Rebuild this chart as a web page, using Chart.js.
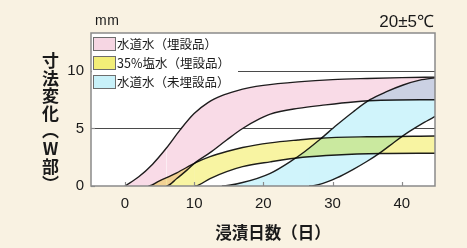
<!DOCTYPE html>
<html>
<head>
<meta charset="utf-8">
<script src="https://cdn.jsdelivr.net/npm/chart.js@4"></script>
<style>
  html, body { margin: 0; padding: 0; background: #f9f2e2; }
  #wrap { position: relative; width: 467px; height: 248px; overflow: hidden; }
  #c { position: absolute; left: 0; top: 0; }
  .t { position: absolute; color: #1a1a1a; white-space: nowrap; }
  .jp { font-family: "Noto Sans CJK JP", "Noto Sans CJK SC", sans-serif; }
  .lat { font-family: "Liberation Sans", Arial, sans-serif; }
  #legend { position: absolute; left: 92px; top: 34px; width: 146px; height: 53px; background: #fff; }
  .lbox { position: absolute; left: 1px; width: 21px; height: 12px; border: 1px solid #6d6d6d; }
  .ltxt { position: absolute; left: 25px; font-size: 12.5px; line-height: 13px; color: #1a1a1a; }
  #ytitle { left: 41px; top: 52px; writing-mode: vertical-rl; text-orientation: upright;
            font-size: 17px; line-height: 18px; letter-spacing: 0.6px; font-weight: 700; }
  #xtitle { left: 0; width: 546px; text-align: center; top: 224px; font-size: 16.5px; line-height: 17px; font-weight: 700; }
  #unit { left: 95px; top: 14px; font-size: 14px; line-height: 13px; letter-spacing: 0.5px; }
  #temp { right: 33px; top: 14px; font-size: 17px; line-height: 16px; }
</style>
</head>
<body>
<div id="wrap">
  <canvas id="c" width="467" height="248"></canvas>
  <div id="legend"></div>
  <div id="ytitle" class="t jp">寸法変化（W部）</div>
  <div id="xtitle" class="t jp">浸漬日数（日）</div>
  <div id="unit" class="t lat">mm</div>
  <div id="temp" class="t lat">20±5℃</div>
</div>
<script>
// ---------- data ----------
const X_MIN = -4.9, X_MAX = 44.8, Y_MIN = 0, Y_MAX = 13.3;
const X_TICKS = [0, 10, 20, 30, 40];
const Y_TICKS = [0, 5, 10];
const REF_LINES_MM = [5, 10];

const LEGEND_LABELS = ['水道水（埋設品）', '35%塩水（埋設品）', '水道水（未埋設品）'];

// 水道水（埋設品） band
const TAP_BURIED_UPPER_DAY = [0, 2, 4, 6, 8, 10, 12, 14, 16, 18, 20, 25, 30, 35, 40, 45];
const TAP_BURIED_UPPER_MM  = [0, 0.8, 1.9, 3.3, 4.9, 6.3, 7.25, 7.85, 8.25, 8.55, 8.75, 9.05, 9.25, 9.35, 9.42, 9.47];
const TAP_BURIED_LOWER_DAY = [0, 6, 7.5, 9, 10.3, 12.3, 14.7, 17, 19.5, 21, 25, 29, 33, 37, 45];
const TAP_BURIED_LOWER_MM  = [0, 0, 0.65, 1.4, 2.1, 2.9, 4.0, 5.0, 5.85, 6.25, 6.75, 7.05, 7.3, 7.45, 7.5];

// 35%塩水（埋設品） band
const SALT_BURIED_UPPER_DAY = [0, 3.4, 5, 7.5, 10.3, 12.3, 14.7, 17, 21, 25, 28, 35, 45];
const SALT_BURIED_UPPER_MM  = [0, 0, 0.45, 1.15, 2.05, 2.55, 3.0, 3.35, 3.75, 4.0, 4.15, 4.28, 4.35];
const SALT_BURIED_LOWER_DAY = [0, 10.1, 12.3, 14.7, 17, 21, 25.7, 30.6, 37, 45];
const SALT_BURIED_LOWER_MM  = [0, 0, 0.65, 1.25, 1.68, 2.1, 2.5, 2.7, 2.82, 2.85];

// 水道水（未埋設品） band
const TAP_UNBURIED_UPPER_DAY = [0, 14, 17, 21, 24.1, 26, 28.2, 30.6, 33, 35.4, 37.8, 40.2, 42.6, 45];
const TAP_UNBURIED_UPPER_MM  = [0, 0, 0.3, 1.1, 2.2, 3.0, 4.06, 5.3, 6.46, 7.5, 8.2, 8.78, 9.2, 9.42];
const TAP_UNBURIED_LOWER_DAY = [0, 26.6, 28.5, 30.6, 33, 35, 37, 39, 41, 43, 45];
const TAP_UNBURIED_LOWER_MM  = [0, 0, 0.2, 0.7, 1.45, 2.15, 2.95, 3.85, 4.7, 5.45, 6.1];

// ---------- styles ----------
const BAND_FILLS = ['#f9dbe7', '#f8f4a2', '#d0f4fb'];
const LEGEND_FILLS = ['#f6d6e3', '#f2ee78', '#c8f1f9'];
const LINE_COLOR = '#1e1e1e';
const FONT_LAT = '"Liberation Sans", Arial, sans-serif';

// legend (HTML, real text)
const lg = document.getElementById('legend');
LEGEND_LABELS.forEach((txt, i) => {
  const top = 3 + i * 19;
  const b = document.createElement('div');
  b.className = 'lbox'; b.style.top = top + 'px'; b.style.background = LEGEND_FILLS[i];
  lg.appendChild(b);
  const t = document.createElement('div');
  t.className = 'ltxt jp'; t.style.top = top + 'px'; t.textContent = txt;
  lg.appendChild(t);
});

function pts(days, mm) { return days.map((x, i) => ({ x, y: mm[i] })); }
const hideZero = ctx => (ctx.p0.parsed.y === 0 && ctx.p1.parsed.y === 0) ? 'rgba(0,0,0,0)' : undefined;

function line(data, fill, color) {
  return {
    data, parsing: false, showLine: true,
    borderColor: LINE_COLOR, borderWidth: 1.4, pointRadius: 0, pointHoverRadius: 0,
    cubicInterpolationMode: 'monotone',
    fill: fill, backgroundColor: color || 'rgba(0,0,0,0)',
    segment: { borderColor: hideZero }
  };
}

const datasets = [
  line(pts(TAP_BURIED_LOWER_DAY, TAP_BURIED_LOWER_MM), false),
  line(pts(TAP_BURIED_UPPER_DAY, TAP_BURIED_UPPER_MM), 0, BAND_FILLS[0]),
  line(pts(SALT_BURIED_LOWER_DAY, SALT_BURIED_LOWER_MM), false),
  line(pts(SALT_BURIED_UPPER_DAY, SALT_BURIED_UPPER_MM), 2, BAND_FILLS[1]),
  line(pts(TAP_UNBURIED_LOWER_DAY, TAP_UNBURIED_LOWER_MM), false),
  line(pts(TAP_UNBURIED_UPPER_DAY, TAP_UNBURIED_UPPER_MM), 4, BAND_FILLS[2]),
];

const bandPlugin = {
  id: 'bandBlend',
  beforeDatasetsDraw(chart) {
    chart.ctx.save();
    chart.ctx.globalCompositeOperation = 'multiply';
  },
  afterDatasetsDraw(chart) {
    const ctx = chart.ctx;
    ctx.restore();
    const { left, right, top, bottom } = chart.chartArea;
    const ys = chart.scales.y;
    ctx.save();
    ctx.globalCompositeOperation = 'destination-over';
    ctx.strokeStyle = '#4a4a4a';
    ctx.lineWidth = 1.1;
    REF_LINES_MM.forEach(v => {
      const py = Math.round(ys.getPixelForValue(v)) + 0.5;
      ctx.beginPath(); ctx.moveTo(left, py); ctx.lineTo(right, py); ctx.stroke();
    });
    ctx.fillStyle = '#ffffff';
    ctx.fillRect(left, top, right - left, bottom - top);
    ctx.restore();
  },
  afterDraw(chart) {
    const ctx = chart.ctx;
    const { left, right, top, bottom } = chart.chartArea;
    const xs = chart.scales.x, ys = chart.scales.y;
    ctx.save();
    ctx.strokeStyle = '#8a8a8a';
    ctx.lineWidth = 1.5;
    ctx.strokeRect(left, top, right - left, bottom - top);
    ctx.lineWidth = 1.2;
    X_TICKS.forEach(v => {
      const px = Math.round(xs.getPixelForValue(v)) + 0.5;
      ctx.beginPath(); ctx.moveTo(px, bottom); ctx.lineTo(px, bottom - 4); ctx.stroke();
    });
    Y_TICKS.forEach(v => {
      const py = Math.round(ys.getPixelForValue(v)) + 0.5;
      ctx.beginPath(); ctx.moveTo(left, py); ctx.lineTo(left + 4, py); ctx.stroke();
    });
    ctx.restore();
  }
};

new Chart(document.getElementById('c'), {
  type: 'line',
  data: { datasets },
  plugins: [bandPlugin],
  options: {
    responsive: false,
    animation: false,
    devicePixelRatio: 1,
    events: [],
    layout: { padding: { left: 0, right: 32, top: 33, bottom: 0 } },
    plugins: { legend: { display: false }, tooltip: { enabled: false }, title: { display: false } },
    scales: {
      x: {
        type: 'linear', min: X_MIN, max: X_MAX,
        grid: { display: false, drawTicks: false }, border: { display: false },
        afterBuildTicks: s => { s.ticks = X_TICKS.map(v => ({ value: v })); },
        afterFit: s => { s.height = 62; },
        ticks: { color: '#1a1a1a', font: { family: FONT_LAT, size: 15 }, padding: 9, maxRotation: 0, autoSkip: false }
      },
      y: {
        type: 'linear', min: Y_MIN, max: Y_MAX,
        grid: { display: false, drawTicks: false }, border: { display: false },
        afterBuildTicks: s => { s.ticks = Y_TICKS.map(v => ({ value: v })); },
        afterFit: s => { s.width = 91; },
        ticks: { color: '#1a1a1a', font: { family: FONT_LAT, size: 15 }, padding: 7, autoSkip: false }
      }
    }
  }
});
</script>
</body>
</html>
